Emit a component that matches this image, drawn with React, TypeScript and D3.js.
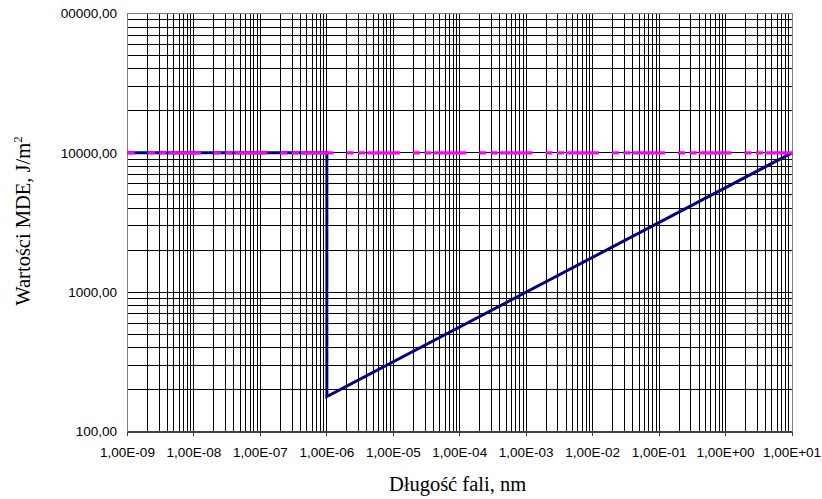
import React from "react";
import * as d3 from "d3";

const xTickValues = [1e-9, 1e-8, 1e-7, 1e-6, 1e-5, 1e-4, 1e-3, 1e-2, 1e-1, 1e0, 1e1];
const xTickLabels = ["1,00E-09", "1,00E-08", "1,00E-07", "1,00E-06", "1,00E-05", "1,00E-04", "1,00E-03", "1,00E-02", "1,00E-01", "1,00E+00", "1,00E+01"];
const yTickValues = [100, 1000, 10000, 100000];
const yTickLabels = ["100,00", "1000,00", "10000,00", "100000,00"];

// navy series (MDE)
const mdeX = [1e-9, 1e-6, 1e-6, 1e1];
const mdeY = [10000, 10000, 178, 10000];
// magenta series (limit)
const limX = [1e-9, 1e1];
const limY = [10000, 10000];

const W = 822, H = 499;
const L = 127.5, R = 792, T = 13.5, B = 431.5;

export default function App() {
  const x = d3.scaleLog().domain([1e-9, 1e1]).range([L, R]);
  const y = d3.scaleLog().domain([100, 1e5]).range([B, T]);

  const vGrid: number[] = [];
  for (let e = -9; e < 1; e++) for (let m = 1; m <= 9; m++) vGrid.push(m * Math.pow(10, e));
  vGrid.push(10);
  const hGrid: number[] = [];
  for (let e = 2; e < 5; e++) for (let m = 1; m <= 9; m++) hGrid.push(m * Math.pow(10, e));
  hGrid.push(1e5);

  const line = d3.line<[number, number]>().x(d => x(d[0])).y(d => y(d[1]));
  const mdePts: [number, number][] = mdeX.map((v, i) => [v, mdeY[i]]);
  const limPts: [number, number][] = limX.map((v, i) => [v, limY[i]]);

  const font = "Arial, 'Liberation Sans', sans-serif";
  const serif = "'Liberation Serif', 'Times New Roman', serif";

  return (
    <svg width={W} height={H} style={{ position: "absolute", left: 0, top: 0, background: "#fff" }}>
      <defs>
        <clipPath id="yclip">
          <rect x={60} y={0} width={W} height={H} />
        </clipPath>
      </defs>
      <rect x={0} y={0} width={W} height={H} fill="#fff" />
      <g shapeRendering="crispEdges">
        {vGrid.map((v, i) => (
          <line key={"v" + i} x1={x(v)} x2={x(v)} y1={T} y2={B} stroke="#000" strokeWidth={1} />
        ))}
        {hGrid.map((v, i) => (
          <line key={"h" + i} x1={L} x2={R} y1={y(v)} y2={y(v)} stroke="#000" strokeWidth={1} />
        ))}
        <rect x={L} y={T} width={R - L} height={B - T} fill="none" stroke="#808080" strokeWidth={1} />
        <line x1={L} x2={R} y1={B} y2={B} stroke="#404040" strokeWidth={2} />
        {xTickValues.map((v, i) => (
          <line key={"t" + i} x1={x(v)} x2={x(v)} y1={B} y2={B + 4} stroke="#404040" strokeWidth={1} />
        ))}
      </g>
      <path d={line(mdePts) || ""} fill="none" stroke="#000080" strokeWidth={3} strokeLinejoin="miter" />
      <path d={line(limPts) || ""} fill="none" stroke="#ff00ff" strokeWidth={3.3}
        strokeDasharray="32.7,13,7,4.5,7,2.1" strokeDashoffset={25.5} />
      <g clipPath="url(#yclip)">
        {yTickValues.map((v, i) => (
          <text key={"yl" + i} x={117} y={y(v)} dy="0.35em" textAnchor="end" fontFamily={font} fontSize={13.5} fill="#000">
            {yTickLabels[i]}
          </text>
        ))}
      </g>
      {xTickValues.map((v, i) => (
        <text key={"xl" + i} x={x(v)} y={457} textAnchor="middle" fontFamily={font} fontSize={13.5} fill="#000">
          {xTickLabels[i]}
        </text>
      ))}
      <text x={457.5} y={491} textAnchor="middle" fontFamily={serif} fontSize={20.5} fill="#000">
        Długość fali, nm
      </text>
      <text transform="translate(30,221) rotate(-90)" textAnchor="middle" fontFamily={serif} fontSize={20.5} fill="#000">
        Wartości MDE, J/m<tspan dy="-8" fontSize={13}>2</tspan>
      </text>
    </svg>
  );
}
